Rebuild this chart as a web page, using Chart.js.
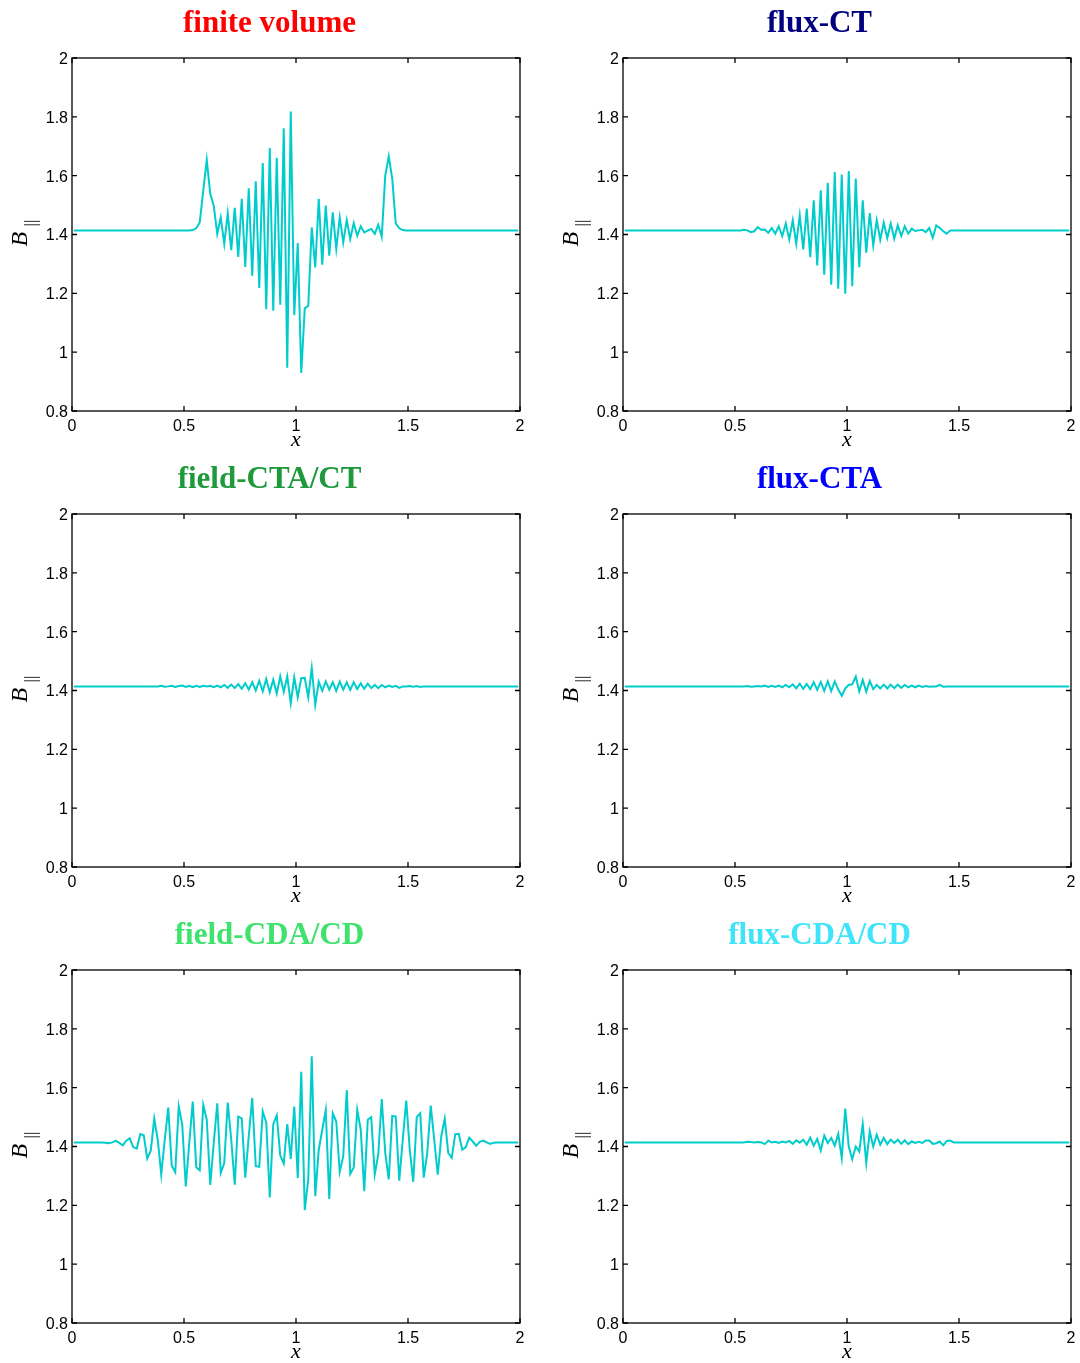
<!DOCTYPE html>
<html>
<head>
<meta charset="utf-8">
<title>B parallel, six schemes</title>
<script src="https://cdn.jsdelivr.net/npm/chart.js@4.4.0/dist/chart.umd.min.js"></script>
<style>
  body { margin: 0; background: #fff; }
  #page { position: relative; width: 1080px; height: 1363px; overflow: hidden; }
  canvas { position: absolute; }
</style>
</head>
<body>
<div id="page"></div>
<script>
// Axis ticks
const xTicks = [0, 0.5, 1, 1.5, 2];
const yTicks = [0.8, 1, 1.2, 1.4, 1.6, 1.8, 2];

// 128 cells on [0, 2], one value per cell centre
const nCells = 128;
const xs = Array.from({ length: nCells }, (_, i) => (i + 0.5) * 2 / nCells);

// B_parallel per panel
const finiteVolume = [
  1.414, 1.414, 1.414, 1.414, 1.414, 1.414, 1.414, 1.414, 1.414, 1.414, 1.414, 1.414, 1.414, 1.414, 1.414, 1.414,
  1.414, 1.414, 1.414, 1.414, 1.414, 1.414, 1.414, 1.414, 1.414, 1.414, 1.414, 1.414, 1.414, 1.414, 1.414, 1.414,
  1.414, 1.414, 1.415, 1.421, 1.441, 1.549, 1.654, 1.538, 1.498, 1.402, 1.458, 1.368, 1.472, 1.347, 1.491, 1.324,
  1.521, 1.290, 1.557, 1.260, 1.581, 1.218, 1.643, 1.146, 1.694, 1.141, 1.661, 1.161, 1.761, 0.947, 1.818, 1.126,
  1.371, 0.929, 1.149, 1.158, 1.424, 1.288, 1.521, 1.297, 1.498, 1.328, 1.475, 1.351, 1.458, 1.373, 1.449, 1.385,
  1.439, 1.396, 1.428, 1.407, 1.413, 1.419, 1.402, 1.433, 1.392, 1.600, 1.666, 1.589, 1.438, 1.421, 1.415, 1.414,
  1.414, 1.414, 1.414, 1.414, 1.414, 1.414, 1.414, 1.414, 1.414, 1.414, 1.414, 1.414, 1.414, 1.414, 1.414, 1.414,
  1.414, 1.414, 1.414, 1.414, 1.414, 1.414, 1.414, 1.414, 1.414, 1.414, 1.414, 1.414, 1.414, 1.414, 1.414, 1.414
];
const fluxCT = [
  1.414, 1.414, 1.414, 1.414, 1.414, 1.414, 1.414, 1.414, 1.414, 1.414, 1.414, 1.414, 1.414, 1.414, 1.414, 1.414,
  1.414, 1.414, 1.414, 1.414, 1.414, 1.414, 1.414, 1.414, 1.414, 1.414, 1.414, 1.414, 1.414, 1.414, 1.414, 1.414,
  1.414, 1.414, 1.416, 1.414, 1.408, 1.411, 1.425, 1.416, 1.417, 1.406, 1.422, 1.403, 1.428, 1.395, 1.437, 1.383,
  1.448, 1.369, 1.465, 1.349, 1.488, 1.323, 1.516, 1.295, 1.550, 1.263, 1.576, 1.229, 1.612, 1.216, 1.604, 1.199,
  1.616, 1.224, 1.590, 1.289, 1.516, 1.338, 1.473, 1.363, 1.448, 1.382, 1.440, 1.388, 1.437, 1.386, 1.431, 1.395,
  1.428, 1.403, 1.420, 1.412, 1.414, 1.416, 1.408, 1.422, 1.389, 1.431, 1.422, 1.411, 1.403, 1.414, 1.414, 1.414,
  1.414, 1.414, 1.414, 1.414, 1.414, 1.414, 1.414, 1.414, 1.414, 1.414, 1.414, 1.414, 1.414, 1.414, 1.414, 1.414,
  1.414, 1.414, 1.414, 1.414, 1.414, 1.414, 1.414, 1.414, 1.414, 1.414, 1.414, 1.414, 1.414, 1.414, 1.414, 1.414
];
const fieldCTA = [
  1.414, 1.414, 1.414, 1.414, 1.414, 1.414, 1.414, 1.414, 1.414, 1.414, 1.414, 1.414, 1.414, 1.414, 1.414, 1.414,
  1.414, 1.414, 1.414, 1.414, 1.414, 1.414, 1.414, 1.414, 1.414, 1.416, 1.413, 1.414, 1.416, 1.412, 1.415, 1.417,
  1.412, 1.416, 1.411, 1.416, 1.412, 1.416, 1.414, 1.416, 1.411, 1.417, 1.411, 1.419, 1.409, 1.420, 1.408, 1.422,
  1.406, 1.425, 1.403, 1.428, 1.400, 1.433, 1.397, 1.439, 1.394, 1.437, 1.390, 1.448, 1.396, 1.448, 1.357, 1.445,
  1.377, 1.442, 1.443, 1.377, 1.476, 1.351, 1.430, 1.399, 1.431, 1.403, 1.428, 1.399, 1.430, 1.403, 1.428, 1.402,
  1.428, 1.405, 1.424, 1.406, 1.423, 1.408, 1.419, 1.408, 1.419, 1.411, 1.417, 1.412, 1.416, 1.409, 1.414, 1.414,
  1.415, 1.413, 1.415, 1.412, 1.414, 1.414, 1.414, 1.414, 1.414, 1.414, 1.414, 1.414, 1.414, 1.414, 1.414, 1.414,
  1.414, 1.414, 1.414, 1.414, 1.414, 1.414, 1.414, 1.414, 1.414, 1.414, 1.414, 1.414, 1.414, 1.414, 1.414, 1.414
];
const fluxCTA = [
  1.414, 1.414, 1.414, 1.414, 1.414, 1.414, 1.414, 1.414, 1.414, 1.414, 1.414, 1.414, 1.414, 1.414, 1.414, 1.414,
  1.414, 1.414, 1.414, 1.414, 1.414, 1.414, 1.414, 1.414, 1.414, 1.414, 1.414, 1.414, 1.414, 1.414, 1.414, 1.414,
  1.414, 1.414, 1.414, 1.415, 1.413, 1.414, 1.415, 1.414, 1.417, 1.412, 1.416, 1.412, 1.417, 1.411, 1.419, 1.411,
  1.421, 1.407, 1.423, 1.406, 1.422, 1.405, 1.428, 1.402, 1.429, 1.399, 1.431, 1.398, 1.431, 1.403, 1.382, 1.407,
  1.419, 1.421, 1.447, 1.397, 1.436, 1.396, 1.432, 1.405, 1.419, 1.407, 1.420, 1.407, 1.420, 1.408, 1.420, 1.409,
  1.419, 1.411, 1.417, 1.411, 1.417, 1.412, 1.415, 1.413, 1.414, 1.414, 1.419, 1.413, 1.414, 1.414, 1.414, 1.414,
  1.414, 1.414, 1.414, 1.414, 1.414, 1.414, 1.414, 1.414, 1.414, 1.414, 1.414, 1.414, 1.414, 1.414, 1.414, 1.414,
  1.414, 1.414, 1.414, 1.414, 1.414, 1.414, 1.414, 1.414, 1.414, 1.414, 1.414, 1.414, 1.414, 1.414, 1.414, 1.414
];
const fieldCDA = [
  1.414, 1.414, 1.414, 1.414, 1.414, 1.414, 1.414, 1.414, 1.414, 1.413, 1.411, 1.414, 1.419, 1.412, 1.404, 1.420,
  1.428, 1.398, 1.393, 1.442, 1.438, 1.359, 1.386, 1.495, 1.423, 1.305, 1.423, 1.532, 1.335, 1.313, 1.536, 1.474,
  1.264, 1.412, 1.553, 1.329, 1.319, 1.541, 1.491, 1.269, 1.412, 1.547, 1.310, 1.344, 1.549, 1.423, 1.270, 1.502,
  1.496, 1.294, 1.434, 1.565, 1.333, 1.331, 1.519, 1.482, 1.227, 1.476, 1.506, 1.369, 1.342, 1.476, 1.358, 1.536,
  1.293, 1.654, 1.184, 1.288, 1.707, 1.231, 1.389, 1.457, 1.524, 1.222, 1.513, 1.485, 1.314, 1.367, 1.592, 1.307,
  1.329, 1.524, 1.457, 1.248, 1.491, 1.500, 1.305, 1.372, 1.561, 1.378, 1.288, 1.504, 1.502, 1.284, 1.423, 1.556,
  1.389, 1.280, 1.500, 1.513, 1.294, 1.378, 1.539, 1.423, 1.304, 1.434, 1.494, 1.378, 1.361, 1.442, 1.443, 1.389,
  1.398, 1.430, 1.417, 1.403, 1.416, 1.420, 1.414, 1.409, 1.413, 1.414, 1.414, 1.414, 1.414, 1.414, 1.414, 1.414
];
const fluxCDA = [
  1.414, 1.414, 1.414, 1.414, 1.414, 1.414, 1.414, 1.414, 1.414, 1.414, 1.414, 1.414, 1.414, 1.414, 1.414, 1.414,
  1.414, 1.414, 1.414, 1.414, 1.414, 1.414, 1.414, 1.414, 1.414, 1.414, 1.414, 1.414, 1.414, 1.414, 1.414, 1.414,
  1.414, 1.414, 1.414, 1.416, 1.415, 1.414, 1.415, 1.414, 1.408, 1.420, 1.414, 1.416, 1.412, 1.417, 1.414, 1.419,
  1.409, 1.421, 1.413, 1.423, 1.406, 1.430, 1.403, 1.426, 1.387, 1.437, 1.412, 1.429, 1.403, 1.443, 1.361, 1.529,
  1.400, 1.357, 1.400, 1.383, 1.476, 1.344, 1.451, 1.400, 1.440, 1.406, 1.429, 1.408, 1.423, 1.412, 1.423, 1.409,
  1.421, 1.408, 1.417, 1.412, 1.416, 1.412, 1.420, 1.420, 1.409, 1.411, 1.417, 1.404, 1.419, 1.420, 1.414, 1.414,
  1.414, 1.414, 1.414, 1.414, 1.414, 1.414, 1.414, 1.414, 1.414, 1.414, 1.414, 1.414, 1.414, 1.414, 1.414, 1.414,
  1.414, 1.414, 1.414, 1.414, 1.414, 1.414, 1.414, 1.414, 1.414, 1.414, 1.414, 1.414, 1.414, 1.414, 1.414, 1.414
];

const panelTitles = ['finite volume', 'flux-CT', 'field-CTA/CT', 'flux-CTA', 'field-CDA/CD', 'flux-CDA/CD'];
const titleColors = ['#ff0000', '#000080', '#1e9a3c', '#0000ff', '#3ee26c', '#40e4fa'];
const series = [finiteVolume, fluxCT, fieldCTA, fluxCTA, fieldCDA, fluxCDA];

Chart.defaults.font.family = "'Liberation Sans', Arial, sans-serif";
Chart.defaults.font.size = 16;
Chart.defaults.color = '#000';

// Box, inward ticks on all four sides, and the B_|| label
const framePlugin = {
  id: 'frame',
  afterDraw(chart) {
    const { ctx, chartArea: a, scales: { x, y } } = chart;
    ctx.save();
    ctx.strokeStyle = '#000';
    ctx.lineWidth = 1.3;
    ctx.beginPath();
    xTicks.forEach(v => {
      const px = x.getPixelForValue(v);
      ctx.moveTo(px, a.bottom); ctx.lineTo(px, a.bottom - 5);
      ctx.moveTo(px, a.top); ctx.lineTo(px, a.top + 5);
    });
    yTicks.forEach(v => {
      const py = y.getPixelForValue(v);
      ctx.moveTo(a.left, py); ctx.lineTo(a.left + 5, py);
      ctx.moveTo(a.right, py); ctx.lineTo(a.right - 5, py);
    });
    ctx.stroke();
    ctx.strokeRect(a.left, a.top, a.right - a.left, a.bottom - a.top);

    ctx.translate(a.left - 45, (a.top + a.bottom) / 2);
    ctx.rotate(-Math.PI / 2);
    ctx.fillStyle = '#000';
    ctx.textBaseline = 'alphabetic';
    ctx.textAlign = 'left';
    ctx.font = "italic 24px 'Liberation Serif'";
    ctx.fillText('B', -12, 0);
    ctx.font = "17px 'Liberation Serif'";
    ctx.fillText('||', 8, 9);
    ctx.restore();
  }
};

const page = document.getElementById('page');
const colLeft = [0, 550];
const sidePad = [19, 18];
const rowTop = [0, 456, 912];

series.forEach((ys, k) => {
  const col = k % 2;
  const row = Math.floor(k / 2);
  const canvas = document.createElement('canvas');
  canvas.width = 539;
  canvas.height = 451;
  canvas.style.left = colLeft[col] + 'px';
  canvas.style.top = rowTop[row] + 'px';
  page.appendChild(canvas);

  const yAxisWidth = (col === 0 ? 72 : 73) - sidePad[col];

  new Chart(canvas, {
    type: 'line',
    data: {
      datasets: [{
        data: xs.map((x, i) => ({ x, y: ys[i] })),
        borderColor: '#00cccc',
        borderWidth: 2,
        pointRadius: 0,
        tension: 0
      }]
    },
    options: {
      responsive: false,
      animation: false,
      devicePixelRatio: 1,
      layout: { padding: { left: sidePad[col], right: sidePad[col], top: 0, bottom: 0 } },
      plugins: {
        legend: { display: false },
        tooltip: { enabled: false },
        title: {
          display: true,
          text: panelTitles[k],
          color: titleColors[k],
          font: { family: "'Liberation Serif', serif", weight: 'bold', size: 31, lineHeight: 1.2 },
          padding: { top: 5, bottom: 15.8 }
        }
      },
      scales: {
        x: {
          type: 'linear',
          min: 0,
          max: 2,
          grid: { display: false, drawTicks: false },
          border: { display: false },
          afterBuildTicks: s => { s.ticks = xTicks.map(v => ({ value: v })); },
          afterFit: s => { s.height = 40; },
          ticks: { padding: 6, maxRotation: 0, autoSkip: false, callback: v => String(v) },
          title: {
            display: true,
            text: 'x',
            font: { family: "'Liberation Serif', serif", style: 'italic', size: 22, lineHeight: 1 },
            padding: { top: 0, bottom: 0 }
          }
        },
        y: {
          type: 'linear',
          min: 0.8,
          max: 2,
          grid: { display: false, drawTicks: false },
          border: { display: false },
          afterBuildTicks: s => { s.ticks = yTicks.map(v => ({ value: v })); },
          afterFit: s => { s.width = yAxisWidth; },
          ticks: { padding: 4, labelOffset: 1.5, autoSkip: false, callback: v => String(v) }
        }
      }
    },
    plugins: [framePlugin]
  });
});
</script>
</body>
</html>
